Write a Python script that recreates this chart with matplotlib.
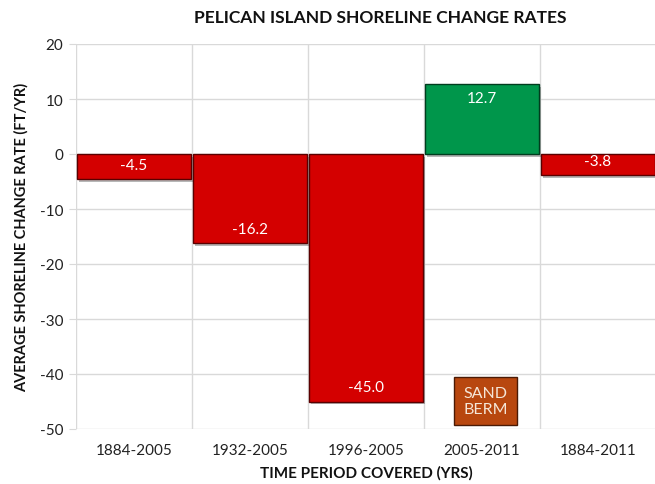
import matplotlib.pyplot as plt
from matplotlib.patches import Rectangle

# data
periods = ['1884-2005', '1932-2005', '1996-2005', '2005-2011', '1884-2011']
rates = [-4.5, -16.2, -45.0, 12.7, -3.8]
bar_colors = ['#D40000', '#D40000', '#D40000', '#00964B', '#D40000']
edge_colors = ['#5A0000', '#5A0000', '#5A0000', '#003D1E', '#5A0000']

plt.rcParams['font.family'] = ['Lato', 'DejaVu Sans']
plt.rcParams['axes.unicode_minus'] = False

fig = plt.figure(figsize=(6.55, 4.85), dpi=100)
ax = fig.add_axes([76 / 655, 55 / 485, 580 / 655, 385 / 485])

x = range(len(periods))
# shadow behind each bar for a bevel-ish look
for i, v in enumerate(rates):
    ax.add_patch(Rectangle((i - 0.49 + 0.02, min(0, v) - 0.5), 0.98, abs(v),
                           facecolor='#333333', alpha=0.35, zorder=2, linewidth=0))
bars = ax.bar(x, rates, width=0.98, color=bar_colors, edgecolor=edge_colors,
              linewidth=1.0, zorder=3)

for i, v in enumerate(rates):
    off = -1.3 if v > 0 else 1.3
    ax.text(i, v + off, f'{v:.1f}', ha='center', va='top' if v > 0 else 'bottom',
            color='white', fontsize=11, zorder=4)

# sand berm note
ax.text(3.03, -44.9, 'SAND\nBERM', ha='center', va='center', color='#F5E6D8',
        fontsize=11.5, linespacing=1.15, zorder=5,
        bbox=dict(boxstyle='square,pad=0.55', facecolor='#B8470F',
                  edgecolor='#4A1A05', linewidth=1.0))

ax.set_xlim(-0.5, 4.5)
ax.set_ylim(-50, 20)
ax.set_yticks(range(-50, 21, 10))
ax.set_xticks(list(x))
ax.set_xticklabels(periods)

# grid: horizontal at each tick, vertical at category boundaries
for yv in range(-50, 21, 10):
    ax.axhline(yv, color='#D9D9D9', linewidth=1.0, zorder=1)
for b in [-0.5, 0.5, 1.5, 2.5, 3.5, 4.5]:
    ax.axvline(b, color='#D9D9D9', linewidth=1.0, zorder=1)

for s in ax.spines.values():
    s.set_visible(False)
ax.tick_params(axis='y', length=5, color='#D9D9D9', labelsize=11, labelcolor='#222222', pad=4)
ax.tick_params(axis='x', length=0, labelsize=11, labelcolor='#222222', pad=10)

fig.text(380 / 655, 1 - 18 / 485, 'PELICAN ISLAND SHORELINE CHANGE RATES', fontsize=12.5,
         fontweight='bold', color='#111111', ha='center', va='center')
ax.set_xlabel('TIME PERIOD COVERED (YRS)', fontsize=11, fontweight='bold', color='#111111',
              labelpad=6)
ax.set_ylabel('AVERAGE SHORELINE CHANGE RATE (FT/YR)', fontsize=10.5, fontweight='bold',
              color='#111111', labelpad=8)

fig.savefig('out.png', dpi=100)
